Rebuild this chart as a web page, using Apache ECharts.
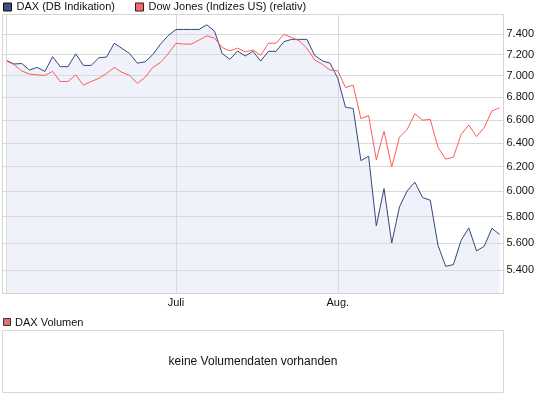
<!DOCTYPE html>
<html><head><meta charset="utf-8">
<script src="https://cdn.jsdelivr.net/npm/echarts@6/dist/echarts.min.js"></script>
<style>html,body{margin:0;padding:0;background:#fff}#c{width:545px;height:398px}</style>
</head><body><div id="c"></div>
<script>
const dates = [
  '01.06.','02.06.','03.06.','06.06.','07.06.','08.06.','09.06.','10.06.','13.06.','14.06.','15.06.',
  '16.06.','17.06.','20.06.','21.06.','22.06.','23.06.','24.06.','27.06.','28.06.','29.06.','30.06.',
  '01.07.','04.07.','05.07.','06.07.','07.07.','08.07.','11.07.','12.07.','13.07.','14.07.','15.07.',
  '18.07.','19.07.','20.07.','21.07.','22.07.','25.07.','26.07.','27.07.','28.07.','29.07.',
  '01.08.','02.08.','03.08.','04.08.','05.08.','08.08.','09.08.','10.08.','11.08.','12.08.','15.08.',
  '16.08.','17.08.','18.08.','19.08.','22.08.','23.08.','24.08.','25.08.','26.08.','29.08.','30.08.'
];
const daxValues = [
  7145,7110,7115,7053,7078,7040,7180,7085,7085,7207,
  7097,7097,7170,7177,7310,7260,7210,7118,7131,7200,
  7302,7385,7446,7446,7446,7446,7492,7430,7210,7155,
  7235,7187,7232,7138,7232,7232,7325,7348,7348,7348,
  7193,7140,7118,6975,6712,6700,6250,6287,5729,6021,
  5599,5876,6002,6073,5950,5928,5582,5427,5440,5619,
  5713,5540,5575,5710,5663
];
const dowValues = [
  7138,7105,7045,7015,7008,7003,7040,6946,6946,7008,
  6912,6946,6975,7021,7078,7031,7003,6928,6985,7078,
  7125,7207,7310,7302,7302,7341,7383,7360,7269,7235,
  7263,7226,7246,7193,7310,7310,7397,7367,7334,7260,
  7148,7107,7053,7046,6890,6912,6610,6637,6257,6500,
  6197,6448,6515,6653,6597,6603,6362,6263,6278,6472,
  6554,6453,6533,6679,6707
];
const yTickValues = [5400,5600,5800,6000,6200,6400,6600,6800,7000,7200,7400];
const xTickDates = ['01.07.','01.08.'];
const xTickLabels = ['Juli','Aug.'];
const seriesNames = ['DAX (DB Indikation)','Dow Jones (Indizes US) (relativ)'];
const volumeLabel = 'DAX Volumen';
const volumeNote = 'keine Volumendaten vorhanden';

const FONT = '"Liberation Sans", Arial, sans-serif';
function fmt(v){ const t=Math.floor(v/1000), r=v%1000; return t+'.'+String(r).padStart(3,'0'); }

const chart = echarts.init(document.getElementById('c'), null, {renderer:'canvas'});
const GRID = '#d9d9d9';
const option = {
  animation:false,
  textStyle:{fontFamily:FONT},
  grid:{left:2.5, right:41.5, top:14.5, bottom:104.5},
  legend:[
    {left:3, top:1.5, padding:0, icon:'rect', itemWidth:8, itemHeight:8, selectedMode:false,
     textStyle:{fontSize:11, color:'#111', fontFamily:FONT},
     data:[{name:seriesNames[0], itemStyle:{color:'#3f4e7e', borderColor:'#111', borderWidth:1}}]},
    {left:135, top:1.5, padding:0, icon:'rect', itemWidth:8, itemHeight:8, selectedMode:false,
     textStyle:{fontSize:11, color:'#111', fontFamily:FONT},
     data:[{name:seriesNames[1], itemStyle:{color:'#ff6666', borderColor:'#222', borderWidth:1}}]}
  ],
  xAxis:{
    type:'category', data:dates, boundaryGap:true,
    axisLine:{show:false}, axisTick:{show:false}, splitLine:{show:false},
    axisLabel:{
      interval:(i, val) => xTickDates.includes(val),
      formatter:(val) => xTickLabels[xTickDates.indexOf(val)] || '',
      fontSize:11, color:'#111', margin:4, fontFamily:FONT
    }
  },
  yAxis:{type:'log', min:5234, max:7596, show:false},
  series:[
    {
      name:seriesNames[0], type:'line', data:daxValues, symbol:'none', silent:true, z:1,
      lineStyle:{width:0, opacity:0}, itemStyle:{color:'#36467a'},
      areaStyle:{color:'#eff2fa', opacity:1, origin:'start'},
      markLine:{
        z:2, silent:true, symbol:'none', animation:false,
        lineStyle:{color:GRID, width:1, type:'solid'},
        label:{show:false},
        emphasis:{disabled:true},
        data:[
          ...yTickValues.map(v => ({yAxis:v, label:{show:true, position:'end', distance:3,
              formatter:fmt(v), fontSize:11, color:'#111', fontFamily:FONT}})),
          ...xTickDates.map(d => ({xAxis:d}))
        ]
      }
    },
    {
      name:seriesNames[0], type:'line', data:daxValues, symbol:'none', z:3,
      lineStyle:{color:'#36467a', width:1}, itemStyle:{color:'#36467a'}
    },
    {
      name:seriesNames[1], type:'line', data:dowValues, symbol:'none', z:4,
      lineStyle:{color:'#ff5a5a', width:1}, itemStyle:{color:'#ff5a5a'}
    }
  ],
  graphic:[
    {type:'rect', z:10, shape:{x:2.5, y:14.5, width:501, height:279}, style:{fill:'none', stroke:'#d4d4d4', lineWidth:1}, silent:true},
    {type:'line', z:10, shape:{x1:6.5, y1:14.5, x2:6.5, y2:293.5}, style:{stroke:'#d9d9d9', lineWidth:1}, silent:true},
    {type:'rect', z:10, shape:{x:3.5, y:318.5, width:7, height:7}, style:{fill:'#e07070', stroke:'#333', lineWidth:1}, silent:true},
    {type:'text', z:10, x:15, y:322.5, style:{text:volumeLabel, fontSize:11, fill:'#111', fontFamily:FONT, verticalAlign:'middle'}, silent:true},
    {type:'rect', z:10, shape:{x:2.5, y:330.5, width:501, height:62}, style:{fill:'none', stroke:'#d8d8d8', lineWidth:1}, silent:true},
    {type:'text', z:10, x:253, y:361.5, style:{text:volumeNote, fontSize:12, fill:'#111', fontFamily:FONT, align:'center', verticalAlign:'middle'}, silent:true}
  ]
};
chart.setOption(option);
</script>
</body></html>
